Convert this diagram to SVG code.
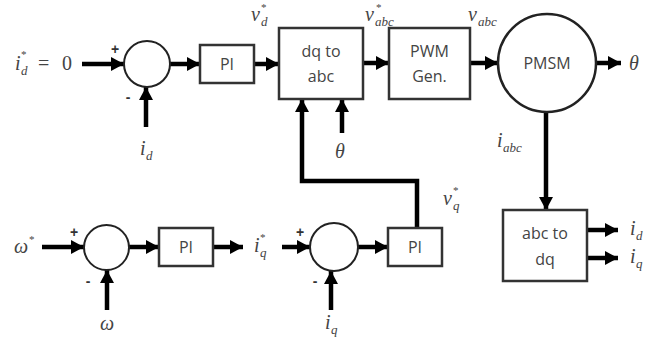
<svg xmlns="http://www.w3.org/2000/svg" width="658" height="349" viewBox="0 0 658 349">
<defs>
<marker id="ah" markerUnits="userSpaceOnUse" markerWidth="14" markerHeight="14" refX="13" refY="7" orient="auto">
<path d="M0,0 L13,7 L0,14 Z" fill="#000"/>
</marker>
</defs>
<style>
.box{fill:#fff;stroke:#333;stroke-width:2.5}
.sum{fill:#fff;stroke:#222;stroke-width:2}
.big{fill:#fff;stroke:#222;stroke-width:2.5}
.arr{fill:none;stroke:#000;stroke-width:4.5;marker-end:url(#ah)}
.lbl{font-family:"Open Sans","Liberation Sans",Arial,sans-serif;font-size:16px;fill:#444;text-anchor:middle}
.m{font-family:"Liberation Serif","Times New Roman",serif;font-style:italic;font-size:20px;fill:#444}
.n{font-family:"Liberation Serif","Times New Roman",serif;font-size:20px;fill:#444}
.s{font-family:"Liberation Serif","Times New Roman",serif;font-style:italic;font-size:13px;fill:#444}
.st{font-family:"Liberation Serif","Times New Roman",serif;font-size:11px;fill:#444}
.sg{font-family:"Liberation Sans",Arial,sans-serif;font-size:14px;font-weight:bold;fill:#333;text-anchor:middle}
</style>
<g id="connectors">
<path class="arr" d="M82,64 H124"/>
<path class="arr" d="M146,127 V87"/>
<path class="arr" d="M170,64 H200"/>
<path class="arr" d="M254,64 H279"/>
<path class="arr" d="M363,63 H389"/>
<path class="arr" d="M470,63 H498"/>
<path class="arr" d="M596,63 H621"/>
<path class="arr" d="M342,133 V99"/>
<path class="arr" d="M417,228 V181 H302 V99"/>
<path class="arr" d="M546,112 V210"/>
<path class="arr" d="M587,230 H618"/>
<path class="arr" d="M587,258 H618"/>
<path class="arr" d="M42,247 H84"/>
<path class="arr" d="M107,310 V270"/>
<path class="arr" d="M129,247 H159"/>
<path class="arr" d="M213,247 H243"/>
<path class="arr" d="M282,247 H310"/>
<path class="arr" d="M331,310 V271"/>
<path class="arr" d="M358,247 H388"/>
</g>
<g id="sum1">
<circle class="sum" cx="147" cy="64" r="23"/>
<text class="sg" x="115" y="54">+</text>
<text class="sg" x="128" y="102">-</text>
</g>
<g id="pi1">
<rect class="box" x="200" y="45" width="54" height="38"/>
<text class="lbl" x="227" y="70">PI</text>
</g>
<g id="dq2abc">
<rect class="box" x="279" y="28" width="84" height="71"/>
<text class="lbl" x="321" y="57">dq to</text>
<text class="lbl" x="321" y="82">abc</text>
</g>
<g id="pwm">
<rect class="box" x="389" y="28" width="81" height="71"/>
<text class="lbl" x="429.5" y="57">PWM</text>
<text class="lbl" x="429.5" y="82">Gen.</text>
</g>
<g id="pmsm">
<circle class="big" cx="547" cy="63" r="49"/>
<text class="lbl" x="547" y="69">PMSM</text>
</g>
<g id="abc2dq">
<rect class="box" x="503" y="210" width="84" height="71"/>
<text class="lbl" x="545" y="239">abc to</text>
<text class="lbl" x="545" y="265">dq</text>
</g>
<g id="pi2">
<rect class="box" x="388" y="228" width="54" height="38"/>
<text class="lbl" x="415" y="253">PI</text>
</g>
<g id="sum3">
<circle class="sum" cx="334" cy="247" r="24"/>
<text class="sg" x="300" y="237">+</text>
<text class="sg" x="315" y="286">-</text>
</g>
<g id="pi3">
<rect class="box" x="159" y="228" width="54" height="38"/>
<text class="lbl" x="186" y="253">PI</text>
</g>
<g id="sum2">
<circle class="sum" cx="106.5" cy="247.5" r="22.5"/>
<text class="sg" x="74" y="237">+</text>
<text class="sg" x="88" y="286">-</text>
</g>
<g id="labels">
<text class="m" x="15" y="70">i</text><text class="s" x="21" y="75">d</text><text class="st" x="21" y="58">*</text>
<text class="n" x="38" y="70">=</text><text class="n" x="62" y="70">0</text>
<text class="m" x="140" y="155">i</text><text class="s" x="146" y="160">d</text>
<text class="m" x="251" y="21">v</text><text class="s" x="261" y="26">d</text><text class="st" x="261" y="11">*</text>
<text class="m" x="365" y="21">v</text><text class="s" x="375" y="26">abc</text><text class="st" x="376" y="11">*</text>
<text class="m" x="468" y="21">v</text><text class="s" x="478" y="26">abc</text>
<text class="m" x="629" y="70">θ</text>
<text class="m" x="335" y="158">θ</text>
<text class="m" x="497" y="147">i</text><text class="s" x="503" y="152">abc</text>
<text class="m" x="443" y="205">v</text><text class="s" x="453" y="210">q</text><text class="st" x="453" y="194">*</text>
<text class="m" x="630" y="235">i</text><text class="s" x="636" y="240">d</text>
<text class="m" x="630" y="263">i</text><text class="s" x="636" y="268">q</text>
<text class="m" x="14" y="253">ω</text><text class="st" x="29" y="243">*</text>
<text class="m" x="100" y="330">ω</text>
<text class="m" x="254" y="252">i</text><text class="s" x="260" y="257">q</text><text class="st" x="260" y="241">*</text>
<text class="m" x="325" y="329">i</text><text class="s" x="331" y="334">q</text>
</g>
</svg>
